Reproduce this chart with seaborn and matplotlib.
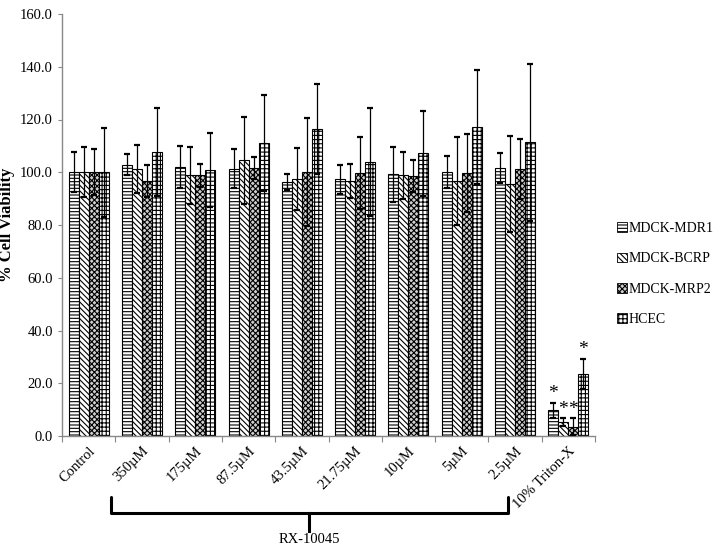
import numpy as np
import pandas as pd
import matplotlib
matplotlib.use("Agg")
import matplotlib.pyplot as plt
from matplotlib.patches import Patch
from matplotlib.lines import Line2D
import matplotlib.transforms as mtrans
import seaborn as sns

categories = ["Control", "350µM", "175µM", "87.5µM", "43.5µM", "21.75µM",
              "10µM", "5µM", "2.5µM", "10% Triton-X"]
series = ["MDCK-MDR1", "MDCK-BCRP", "MDCK-MRP2", "HCEC"]

mdr1 = [100.0, 102.9, 102.1, 101.4, 96.3, 97.4, 99.2, 100.1, 101.7, 9.7]
mdr1_sd = [7.6, 4.1, 8.0, 7.5, 3.0, 5.5, 10.5, 6.2, 5.7, 2.8]
bcrp = [100.0, 101.2, 98.8, 104.5, 97.4, 96.7, 98.8, 96.6, 95.4, 5.2]
bcrp_sd = [9.5, 9.0, 10.9, 16.5, 11.9, 6.5, 9.0, 16.6, 18.2, 1.5]
mrp2 = [100.0, 96.6, 98.8, 101.7, 100.1, 99.6, 98.6, 99.7, 101.2, 3.5]
mrp2_sd = [8.7, 6.1, 4.3, 4.2, 20.6, 13.6, 6.2, 14.7, 11.3, 3.2]
hcec = [100.0, 107.7, 100.9, 111.0, 116.4, 104.0, 107.2, 117.2, 111.3, 23.4]
hcec_sd = [16.8, 16.8, 13.9, 18.2, 17.1, 20.5, 16.1, 21.7, 29.9, 5.7]

y_ticks = [0, 20, 40, 60, 80, 100, 120, 140, 160]
group_label = "RX-10045"
ylabel = "% Cell Viability"
star_index = 9  # Triton-X group gets asterisks

means = [mdr1, bcrp, mrp2, hcec]
sds = [mdr1_sd, bcrp_sd, mrp2_sd, hcec_sd]
hatches = ["-----", "\\\\\\\\\\\\", "xxxxxx", "++++"]
faces = ["white", "white", "#cfcfcf", "white"]

df = pd.DataFrame({
    "cat": np.repeat([categories], 4, axis=0).ravel(),
    "series": np.repeat(series, len(categories)),
    "val": np.concatenate(means),
})

plt.rcParams["font.family"] = ["Liberation Serif", "DejaVu Serif"]
plt.rcParams["hatch.linewidth"] = 0.8

fig = plt.figure(figsize=(7.14, 5.52), dpi=100)
ax = fig.add_axes([62 / 714, 1 - 436 / 552, (595 - 62) / 714, (436 - 14) / 552])

sns.barplot(data=df, x="cat", y="val", hue="series", order=categories,
            hue_order=series, palette=faces, edgecolor="black",
            linewidth=0.8, errorbar=None, width=0.75, ax=ax, legend=False)

for cont, h, sd in zip(ax.containers, hatches, sds):
    for bar, s in zip(cont, sd):
        bar.set_hatch(h)
        cx = bar.get_x() + bar.get_width() / 2
        ax.errorbar(cx, bar.get_height(), yerr=s, fmt="none", ecolor="black",
                    elinewidth=0.9, capsize=2.3, capthick=1.6, zorder=3)

# asterisks on Triton-X
for cont, sd in zip(ax.containers, sds):
    bar = cont[star_index]
    cx = bar.get_x() + bar.get_width() / 2
    ax.text(cx, bar.get_height() + sd[star_index] + 0.3, "*", ha="center",
            va="bottom", fontsize=14)

ax.set_ylim(0, 160)
ax.set_xlim(-0.5, len(categories) - 0.5)
ax.set_yticks(y_ticks)
ax.set_yticklabels([f"{v:.1f}" for v in y_ticks], fontsize=10.5)
ax.set_xticks(np.arange(-0.5, len(categories), 1))
ax.set_xticklabels([])
ax.set_xticks(np.arange(len(categories)), minor=True)
ax.set_xticklabels(categories, minor=True, rotation=45, ha="right",
                   rotation_mode="anchor", fontsize=10.5)
ax.tick_params(axis="x", which="minor", length=0, pad=6)
ax.tick_params(axis="x", which="major", length=4, color="#888888")
ax.tick_params(axis="y", length=3, color="#888888")
ax.set_xlabel("")
ax.set_ylabel(ylabel, fontsize=12, fontweight="bold")
ax.yaxis.set_label_coords(-0.088, 0.5)
for s in ["top", "right"]:
    ax.spines[s].set_visible(False)
for s in ["left", "bottom"]:
    ax.spines[s].set_color("#888888")
    ax.spines[s].set_linewidth(1.0)

# bracket below the RX-10045 concentrations
tr = mtrans.blended_transform_factory(ax.transData, ax.transAxes)
xl, xr, xc = 0.42, 7.87, 4.14
ytop, ybar, ytip = -0.145, -0.182, -0.225
ax.add_line(Line2D([xl, xl, xr, xr], [ytop, ybar, ybar, ytop], transform=tr,
                   color="black", lw=2.2, clip_on=False,
                   solid_joinstyle="round", solid_capstyle="round"))
ax.add_line(Line2D([xc, xc], [ybar, ytip], transform=tr, color="black",
                   lw=2.2, clip_on=False))
ax.text(xc, -0.246, group_label, transform=tr, ha="center", va="center",
        fontsize=10.5)

handles = [Patch(facecolor=f, edgecolor="black", hatch=h, lw=0.6)
           for h, f in zip(hatches, faces)]
fig.legend(handles, series, loc="center left",
           bbox_to_anchor=(0.857, 1 - 274 / 552), frameon=False,
           fontsize=10, handlelength=0.7, handleheight=0.7,
           handletextpad=0.1, labelspacing=1.25, borderaxespad=0)

fig.savefig("out.png", dpi=100)
